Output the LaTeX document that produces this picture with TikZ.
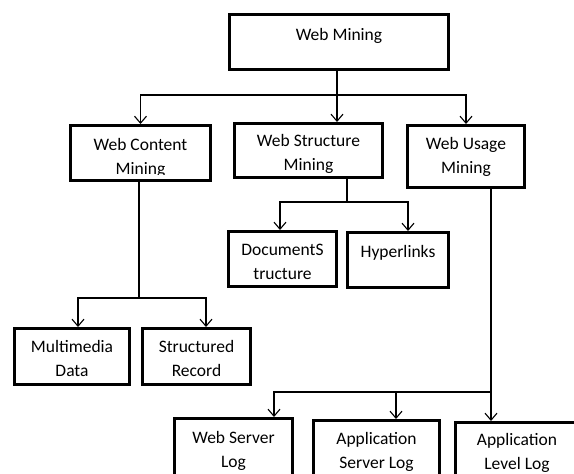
\documentclass[tikz,border=0pt]{standalone}
\usepackage{fontspec}
\setmainfont{Carlito}
\usetikzlibrary{arrows.meta}
\begin{document}
\begin{tikzpicture}[x=1pt,y=-1pt,
  box/.style={draw, line width=2.6pt, inner sep=0pt},
  lbl/.style={font=\fontsize{17.5}{24.5}\selectfont, align=center, anchor=base, inner sep=0pt},
  conn/.style={line width=1.1pt},
  arr/.style={conn, -{Straight Barb[length=7pt,width=12pt]}}]
\clip (0,0) rectangle (574,474);
% boxes
\node[box, minimum width=219.4pt, minimum height=55.4pt] (wm)  at (339,42) {};
\node[box, minimum width=140.4pt, minimum height=55.4pt] (wcm) at (140.5,153) {};
\node[box, minimum width=148.4pt, minimum height=54.4pt] (wsm) at (308.5,150.5) {};
\node[box, minimum width=117.4pt, minimum height=62.4pt] (wum) at (466,156.5) {};
\node[box, minimum width=108.4pt, minimum height=55.4pt] (ds)  at (282.5,259) {};
\node[box, minimum width=101.4pt, minimum height=55.4pt] (hl)  at (398,260) {};
\node[box, minimum width=115.4pt, minimum height=56.4pt] (mm)  at (72,356.5) {};
\node[box, minimum width=108.4pt, minimum height=56.4pt] (sr)  at (196.5,356.5) {};
\node[box, minimum width=118.4pt, minimum height=80.4pt] (wsl) at (233.5,458.5) {};
\node[box, minimum width=126.4pt, minimum height=78.4pt] (asl) at (376.5,459.5) {};
\node[box, minimum width=123.4pt, minimum height=76.4pt] (all) at (517,460.5) {};
% texts (anchor = baseline of the last line)
\node[lbl] (wm-t) at (339,40) {Web Mining};
\begin{scope}
\clip (71,126) rectangle (210,174);
\node[lbl] (wcm-t) at (140.5,174.5) {Web Content\\Mining};
\end{scope}
\begin{scope}
\clip (235,124) rectangle (382,172);
\node[lbl] (wsm-t) at (308.5,170.5) {Web Structure\\Mining};
\end{scope}
\node[lbl] (wum-t) at (466,173.5) {Web Usage\\Mining};
\node[lbl] (ds-t) at (282.5,279.5) {DocumentS\\tructure};
\node[lbl] (hl-t) at (398,257) {Hyperlinks};
\node[lbl] (mm-t) at (72,376.5) {Multimedia\\Data};
\node[lbl] (sr-t) at (196.5,376.5) {Structured\\Record};
\node[lbl] (wsl-t) at (233.5,467.5) {Web Server\\Log};
\node[lbl] (asl-t) at (376.5,468.5) {Application\\Server Log};
\node[lbl] (all-t) at (517,469.5) {Application\\Level Log};
% junction coordinates
\coordinate (j1) at (337,95);
\coordinate (j2) at (347,202);
\coordinate (j2a) at (280,202);
\coordinate (j2b) at (408,202);
\coordinate (j3) at (139,298);
\coordinate (j3a) at (78,298);
\coordinate (j3b) at (206,298);
\coordinate (j4) at (491,392);
\coordinate (j4a) at (274,392);
\coordinate (j4b) at (396,392);
% connectors
\draw[conn] (wm.south -| j1) -- (j1);
\draw[arr] (j1) -| (wcm.north);
\draw[arr] (j1) -- (wsm.north -| j1);
\draw[arr] (j1) -| (wum.north);
\draw[conn] (wsm.south -| j2) -- (j2);
\draw[arr] (j2) -- (j2a) -- (ds.north -| j2a);
\draw[arr] (j2) -- (j2b) -- (hl.north -| j2b);
\draw[conn] (wcm.south -| j3) -- (j3);
\draw[arr] (j3) -- (j3a) -- (mm.north -| j3a);
\draw[arr] (j3) -- (j3b) -- (sr.north -| j3b);
\draw[conn] (wum.south -| j4) -- (j4);
\draw[arr] (j4) -- (j4a) -- (wsl.north -| j4a);
\draw[arr] (j4b) -- (asl.north -| j4b);
\draw[arr] (j4) -- (all.north -| j4);
\end{tikzpicture}
\end{document}
